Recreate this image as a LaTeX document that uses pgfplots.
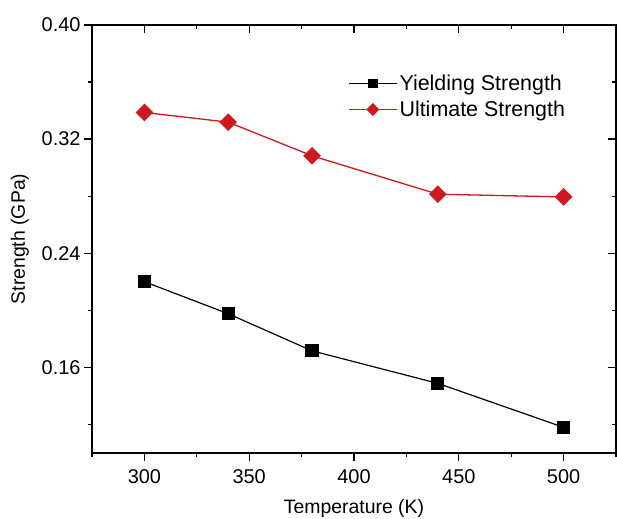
\documentclass[border=0pt]{standalone}
\usepackage{pgfplots}
\pgfplotsset{compat=1.18}
\usepackage{fontspec}
\setmainfont{Liberation Sans}
\definecolor{ultred}{RGB}{204,26,30}

\pgfplotsset{
  strengthaxis/.style={
    scale only axis,
    width=524bp, height=428bp,
    at={(0,0)}, anchor=south west,
    xmin=275, xmax=525,
    ymin=0.10, ymax=0.40,
    xtick={300,350,...,500},
    minor xtick={275,325,...,525},
    ytick={0.16,0.24,0.32,0.40},
    minor ytick={0.12,0.20,0.28,0.36},
    major tick length=8bp,
    minor tick length=4bp,
    axis line style={line width=1.3bp},
    every tick/.style={black, line width=1.3bp},
  }
}

\begin{document}
\begin{tikzpicture}
% main axis: data, labels and outward ticks on bottom and left
\begin{axis}[
  strengthaxis,
  tick align=outside,
  xtick pos=left, ytick pos=left,
  font=\fontsize{20}{23}\selectfont,
  /pgf/number format/assume math mode=true,
  yticklabel style={/pgf/number format/.cd, fixed, fixed zerofill, precision=2},
  xticklabel style={yshift=-5bp, /pgf/number format/.cd, fixed},
  scaled y ticks=false,
  xlabel={Temperature (K)},
  ylabel={Strength (GPa)},
  label style={font=\fontsize{19.5}{22}\selectfont},
  xlabel style={yshift=-9bp},
  ylabel style={yshift=6bp},
  legend style={draw=none, fill=none, at={(0.483,0.893)}, anchor=north west,
    font=\fontsize{21.5}{24}\selectfont, row sep=5bp,
    /tikz/every even column/.append style={column sep=8bp}},
  legend cell align=left,
  legend image code/.code={%
    \draw[mark repeat=2, mark phase=2, #1, every mark/.append style={scale=0.7}]
      plot coordinates {(0bp,0bp) (24bp,0bp) (48bp,0bp)};},
]
\addplot[black, line width=1.2bp, mark=square*, mark size=6bp,
  mark options={solid, fill=black}]
  coordinates {(300,0.2201) (340,0.1976) (380,0.1716) (440,0.1488) (500,0.1180)};
\addlegendentry{Yielding Strength}
\addplot[ultred, line width=1.3bp, mark=square*, mark size=5.6bp,
  mark options={solid, fill=ultred, rotate=45}]
  coordinates {(300,0.3387) (340,0.3319) (380,0.3083) (440,0.2814) (500,0.2795)};
\addlegendentry{Ultimate Strength}
\end{axis}
% overlay axis: inward ticks on top and right
\begin{axis}[
  strengthaxis,
  tick align=inside,
  xtick pos=right, ytick pos=right,
  xticklabels={}, yticklabels={},
]
\end{axis}
\pgfresetboundingbox
\path (-92bp,-66bp) rectangle (525bp,453bp);
\end{tikzpicture}
\end{document}
